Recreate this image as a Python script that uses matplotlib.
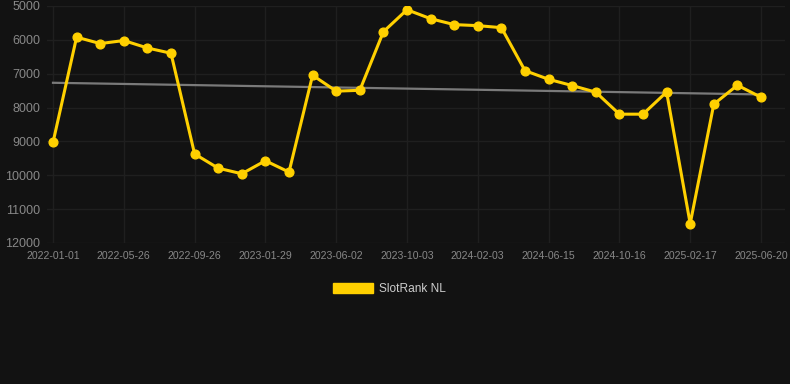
import numpy as np
import matplotlib.pyplot as plt
from matplotlib.patches import Rectangle

# one point per step, tick label shown on every third
dates = ['2022-01-01', '2022-02-18', '2022-04-07', '2022-05-26', '2022-06-26',
         '2022-08-11', '2022-09-26', '2022-11-06', '2022-12-18', '2023-01-29',
         '2023-03-11', '2023-04-22', '2023-06-02', '2023-07-13', '2023-08-23',
         '2023-10-03', '2023-11-13', '2023-12-24', '2024-02-03', '2024-03-15',
         '2024-05-05', '2024-06-15', '2024-07-26', '2024-09-05', '2024-10-16',
         '2024-11-26', '2025-01-07', '2025-02-17', '2025-03-30', '2025-05-10',
         '2025-06-20']
ranks = [9030, 5920, 6110, 6020, 6240, 6395, 9370, 9790, 9955, 9570,
         9905, 7045, 7515, 7490, 5760, 5110, 5375, 5550, 5580, 5640,
         6910, 7165, 7350, 7545, 8195, 8195, 7540, 11430, 7900, 7340,
         7695]

bg = '#121212'
gold = '#FFD000'
plt.rcParams['font.family'] = ['Liberation Sans', 'DejaVu Sans']

fig = plt.figure(figsize=(7.9, 3.84), dpi=100, facecolor=bg)
ax = fig.add_axes([47 / 790, 1 - 243 / 384, 738 / 790, 237 / 384])
ax.set_facecolor(bg)

x = np.arange(len(ranks))

# trend line (linear fit)
coeffs = np.polyfit(x, ranks, 1)
ax.plot(x, np.poly1d(coeffs)(x), color='#7a7a7a', lw=1.6, zorder=2)

ax.plot(x, ranks, color=gold, lw=2.2, marker='o', ms=6.3, zorder=3)

ax.set_xlim(-6 / 23.6, 30 + 24 / 23.6)
ax.set_ylim(12000, 5000)
ax.set_yticks(range(5000, 12001, 1000))
ax.set_xticks(x[::3])
ax.set_xticklabels(dates[::3])

ax.grid(True, color='#1f1f1f', lw=1)
for s in ax.spines.values():
    s.set_visible(False)
ax.tick_params(axis='y', colors='#888888', labelsize=9, length=0, pad=5)
ax.tick_params(axis='x', colors='#888888', labelsize=7.6, length=0, pad=6)

# legend key drawn as a filled box
h = Rectangle((0, 0), 1, 1, facecolor=gold, edgecolor=gold)
fig.legend([h], ['SlotRank NL'], loc='upper center',
           bbox_to_anchor=(0.493, 1 - 272 / 384), frameon=False, fontsize=8.6,
           labelcolor='#cccccc', handlelength=3.3, handleheight=1.0,
           handletextpad=0.5)

fig.savefig('out.png', dpi=100, facecolor=bg)
